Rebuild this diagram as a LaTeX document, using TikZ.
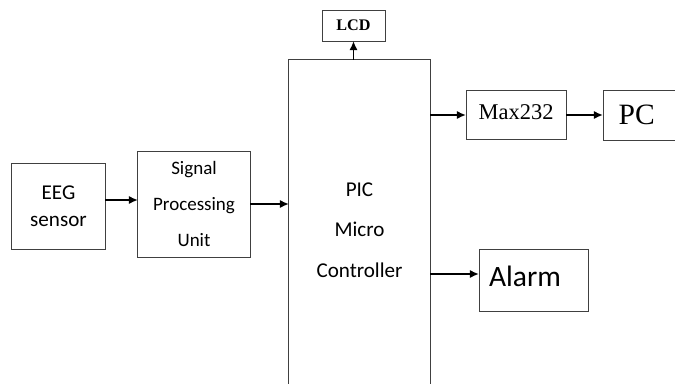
\documentclass[tikz,border=0pt]{standalone}
\usepackage{fontspec}
\setmainfont{Liberation Serif}
\newfontfamily\calib{Carlito}
\usetikzlibrary{arrows.meta}

\begin{document}
\begin{tikzpicture}[x=0.025cm,y=-0.025cm]
\tikzstyle{blk}=[draw=black!75, line width=0.7pt, inner sep=0pt, outer sep=0pt, align=center]
\tikzstyle{arr}=[-{Latex[length=2.3mm,width=2.1mm]}, line width=1.4pt]

\clip (0,0) rectangle (675,383);
\fill[white] (0,0) rectangle (675,383);

\node[blk, minimum width=2.325cm, minimum height=2.15cm, font=\calib\fontsize{15}{19.5}\selectfont] (eeg) at (58.5,206) {EEG\\sensor};
\node[blk, minimum width=2.8cm, minimum height=2.65cm, font=\calib\fontsize{13.5}{25.5}\selectfont] (spu) at (194,204) {Signal\\Processing\\Unit};
\node[blk, minimum width=3.525cm, minimum height=8.5cm, font=\calib\fontsize{15}{28.7}\selectfont] (pic) at (359.5,230) {PIC\\Micro\\Controller};
\node[blk, minimum width=1.575cm, minimum height=0.775cm, font=\bfseries\fontsize{11.5}{13}\selectfont] (lcd) at (353.5,25.5) {LCD};
\node[blk, minimum width=2.5cm, minimum height=1.225cm, font=\fontsize{16}{19}\selectfont] (max) at (516,115) {\raisebox{4pt}{Max232}};
\node[blk, minimum width=2.175cm, minimum height=1.25cm, font=\fontsize{21}{25}\selectfont] (pc) at (646.5,115) {\hspace{-14pt}PC};
\node[blk, minimum width=2.725cm, minimum height=1.55cm, font=\calib\fontsize{21}{25}\selectfont] (alarm) at (533.5,280) {\hspace{-12pt}\raisebox{6pt}{Alarm}};


\draw[arr] ([yshift=0.15cm]eeg.east) -- ([yshift=0.15cm]eeg.east -| spu.west);
\draw[arr] (spu.east) -- (spu.east -| pic.west);
\draw[arr] (lcd.south |- pic.north) -- (lcd.south);
\draw[arr] (pic.east |- max.west) -- (max.west);
\draw[arr] (max.east) -- (max.east -| pc.west);
\draw[arr] ([yshift=0.15cm]alarm.west -| pic.east) -- ([yshift=0.15cm]alarm.west);

\end{tikzpicture}
\end{document}
